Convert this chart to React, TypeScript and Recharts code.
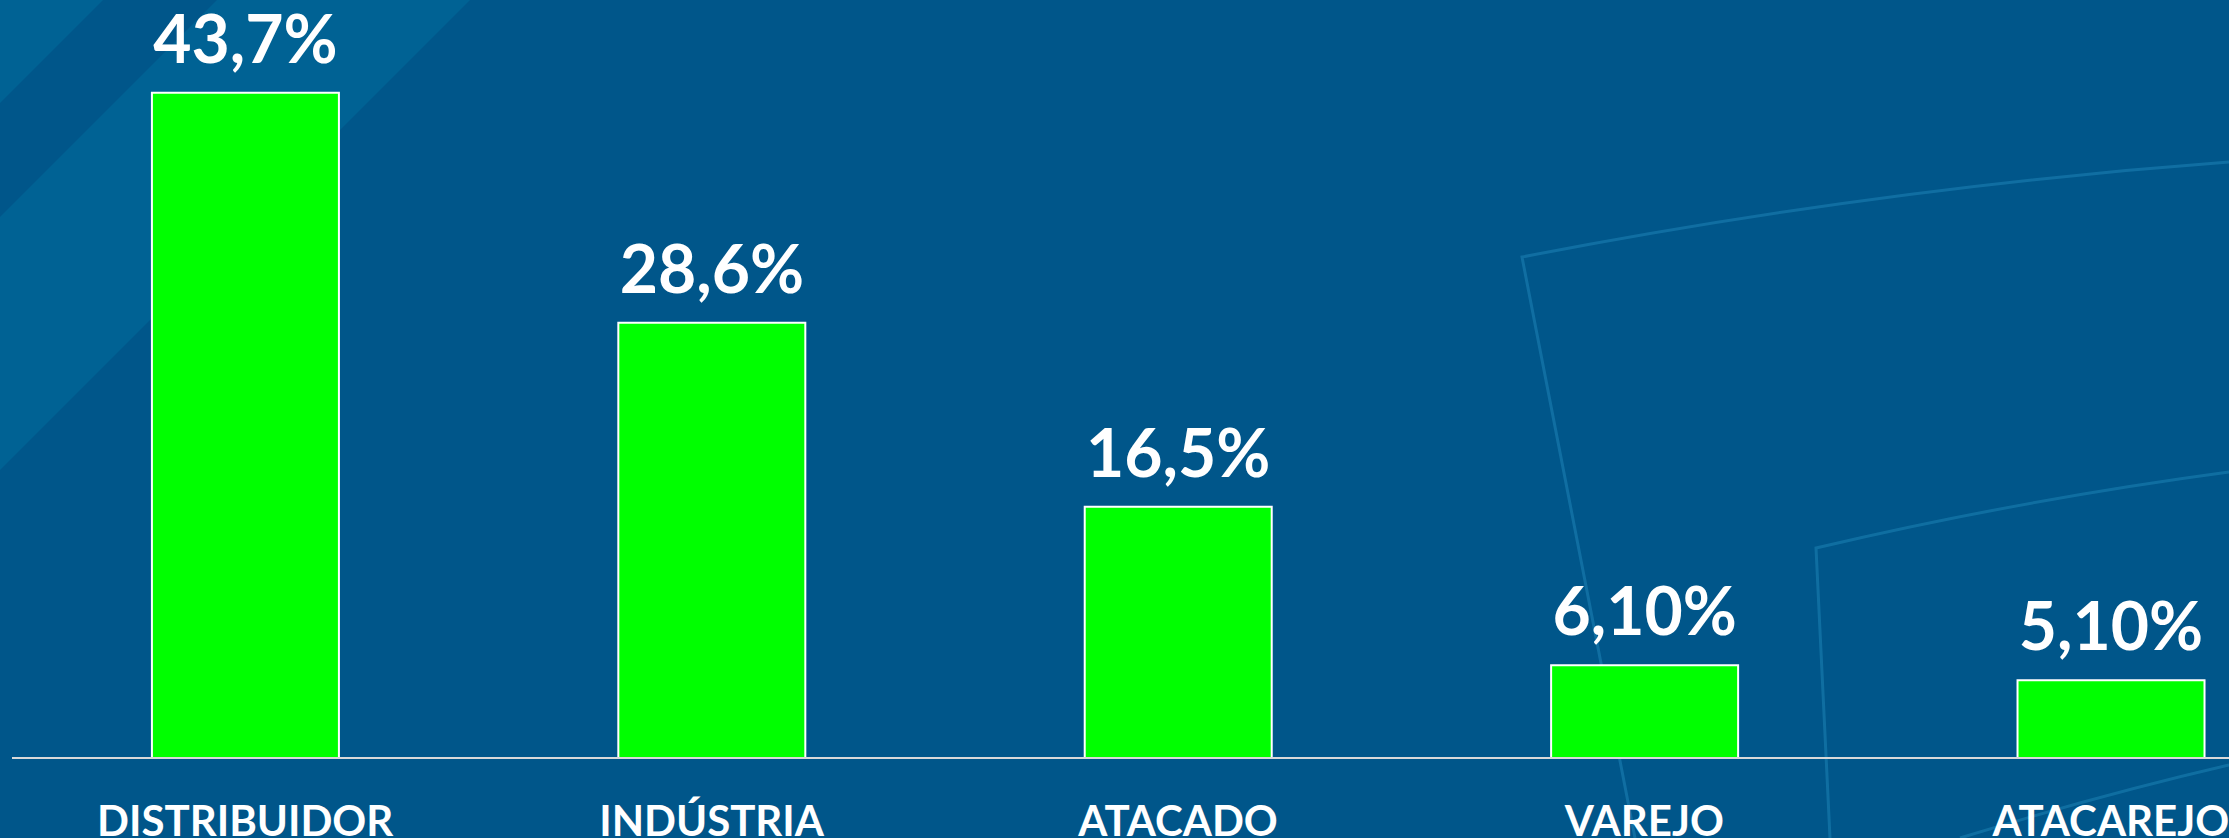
import { BarChart, Bar, XAxis, YAxis, LabelList } from "recharts";

const categories = ["DISTRIBUIDOR", "INDÚSTRIA", "ATACADO", "VAREJO", "ATACAREJO"];
const shares = [43.7, 28.6, 16.5, 6.1, 5.1];
const shareLabels = ["43,7%", "28,6%", "16,5%", "6,10%", "5,10%"];

const data = categories.map((name, i) => ({
  name,
  share: shares[i],
  label: shareLabels[i],
}));

// decorative slide background (stripes + thin arcs)
const Backdrop = () => (
  <svg
    width={2229}
    height={838}
    style={{ position: "absolute", left: 0, top: 0 }}
  >
    <rect width={2229} height={838} fill="#00568a" />
    <polygon points="0,0 103,0 0,103" fill="#006294" />
    <polygon points="217,0 470,0 0,470 0,217" fill="#006294" />
    <g fill="none" stroke="#1577a9" strokeWidth={3} opacity={0.75}>
      <path d="M 1635 838 L 1522 257 Q 1878 188 2229 162" />
      <path d="M 1830 838 L 1816 548 Q 2020 500 2229 472" />
      <path d="M 1960 838 Q 2100 795 2229 765" />
    </g>
  </svg>
);

export default function App() {
  return (
    <div
      style={{
        position: "fixed",
        left: 0,
        top: 0,
        width: 2229,
        height: 838,
        overflow: "hidden",
        background: "#00568a",
      }}
    >
      <Backdrop />
      <div style={{ position: "absolute", left: 0, top: 0 }}>
        <BarChart
          width={2344}
          height={838}
          data={data}
          margin={{ top: 73, right: 0, left: 12, bottom: 0 }}
          barCategoryGap="30%"
        >
          <YAxis hide domain={[0, 45]} />
          <XAxis
            dataKey="name"
            height={80}
            interval={0}
            tickLine={false}
            tickSize={0}
            tickMargin={48}
            axisLine={{ stroke: "#d9d9d9", strokeWidth: 2 }}
            tick={{
              fill: "#ffffff",
              fontSize: 42,
              fontWeight: 700,
              fontFamily: "Lato",
            }}
          />
          <Bar
            dataKey="share"
            fill="#00ff00"
            stroke="#ffffff"
            strokeWidth={2}
            isAnimationActive={false}
          >
            <LabelList
              dataKey="label"
              position="top"
              offset={30}
              fill="#ffffff"
              fontSize={66}
              fontWeight={700}
              fontFamily="Lato"
            />
          </Bar>
        </BarChart>
      </div>
    </div>
  );
}
